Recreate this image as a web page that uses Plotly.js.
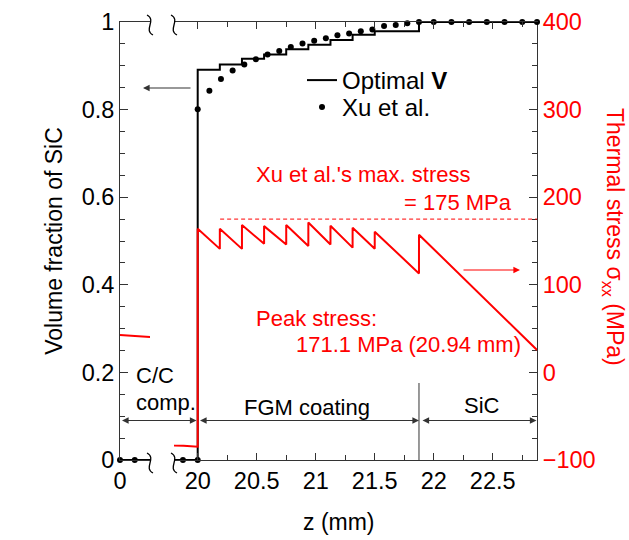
<!DOCTYPE html>
<html>
<head>
<meta charset="utf-8">
<script src="https://cdn.plot.ly/plotly-3.0.1.min.js"></script>
<style>html,body{margin:0;padding:0;background:#fff;}#chart{width:629px;height:540px;}</style>
</head>
<body>
<div id="chart"></div>
<script>
// ---- data ----
// Optimal volume fraction profile (step function, 'hv')
const optZ = [0, 20, 20.1875, 20.375, 20.5625, 20.75, 20.9375, 21.125, 21.3125, 21.5, 21.875, 22.875];
const optV = [0, 0.891, 0.903, 0.916, 0.926, 0.938, 0.948, 0.959, 0.971, 0.979, 1.0, 1.0];

// Xu et al. volume fraction points
const xuZ = [0, 0.125, 19.875, 20,
  20.0, 20.099, 20.197, 20.296, 20.395, 20.493, 20.592, 20.691, 20.789, 20.888,
  20.987, 21.086, 21.184, 21.283, 21.382, 21.480, 21.579, 21.678, 21.776, 21.875,
  22.0, 22.15, 22.3, 22.45, 22.6, 22.75, 22.875];
const xuV = [0, 0, 0, 0,
  0.801, 0.843, 0.870, 0.889, 0.903, 0.915, 0.926, 0.934, 0.943, 0.951,
  0.957, 0.963, 0.970, 0.974, 0.979, 0.983, 0.991, 0.993, 0.997, 1.0,
  1.0, 1.0, 1.0, 1.0, 1.0, 1.0, 1.0];

// Thermal stress sigma_xx (MPa) for optimal V
const stressZ = [0, 0.254, 19.8, 19.88, 20,
  20, 20.1875, 20.1875, 20.375, 20.375, 20.5625, 20.5625, 20.75, 20.75,
  20.9375, 20.9375, 21.125, 21.125, 21.3125, 21.3125, 21.5, 21.5,
  21.875, 21.875, 22.875];
const stressS = [42.7, 40.4, -83.4, -83.6, -84.8,
  164.0, 141.0, 164.0, 141.0, 168.2, 146.8, 167.0, 146.0, 168.2,
  144.2, 171.1, 146.0, 167.4, 142.4, 165.2, 141.2, 160.6,
  113.0, 157.2, 25.6];

// Xu et al.'s max stress level
const xuMaxZ = [20.19, 22.875];
const xuMaxS = [175, 175];

// Coating / SiC interface marker
const sepZ = [21.875, 21.875];
const sepV = [0, 0.176];

// Ticks
const xTickLeft = [0];
const xTickLeftText = ['0'];

// ---- geometry helpers (paper coords from pixel positions) ----
const L = 120, R = 92, T = 22, B = 80, W = 629, H = 540;
const PW = W - L - R, PH = H - T - B;
const px = x => (x - L) / PW;
const py = y => (H - B - y) / PH;

const FONT = 'Liberation Sans, Arial, sans-serif';
const RED = '#ff0000';

const traces = [];
['x', 'x2'].forEach((xa, i) => {
  traces.push({
    x: optZ, y: optV, xaxis: xa, yaxis: 'y', type: 'scatter', mode: 'lines',
    line: {shape: 'hv', color: '#000', width: 2},
    name: 'Optimal <b>V</b>', showlegend: i === 1, legend: 'legend', cliponaxis: true
  });
});
traces.push({
  x: sepZ, y: sepV, xaxis: 'x2', yaxis: 'y', type: 'scatter', mode: 'lines',
  line: {color: '#555', width: 1.2}, showlegend: false, hoverinfo: 'skip'
});
['x', 'x2'].forEach((xa, i) => {
  traces.push({
    x: xuZ, y: xuV, xaxis: xa, yaxis: 'y', type: 'scatter', mode: 'markers',
    marker: {color: '#000', size: 6},
    name: 'Xu et al.', showlegend: i === 1, legend: 'legend2', cliponaxis: false
  });
});
['x', 'x2'].forEach((xa) => {
  traces.push({
    x: stressZ, y: stressS, xaxis: xa, yaxis: 'y2', type: 'scatter', mode: 'lines',
    line: {color: RED, width: 2}, showlegend: false
  });
});
traces.push({
  x: xuMaxZ, y: xuMaxS, xaxis: 'x2', yaxis: 'y2', type: 'scatter', mode: 'lines',
  line: {color: RED, width: 1, dash: '4px,3px'}, showlegend: false
});

function brk(x, y) {
  const a = [px(x - 3), py(y - 10)], c1 = [px(x + 7), py(y - 5)], c2 = [px(x - 7), py(y + 5)], b = [px(x + 3), py(y + 10)];
  return {type: 'path', xref: 'paper', yref: 'paper',
    path: `M${a[0]},${a[1]} C${c1[0]},${c1[1]} ${c2[0]},${c2[1]} ${b[0]},${b[1]}`,
    line: {color: '#000', width: 1.3}};
}

const txt = (text, x, y, xanchor, color, size) => ({
  text, xref: 'paper', yref: 'paper', x: px(x), y: py(y), xanchor, yanchor: 'middle',
  showarrow: false, font: {family: FONT, size: size || 22, color: color || '#000'}
});
const arrowBase = {text: '', showarrow: true, arrowhead: 2, arrowsize: 1.1, arrowwidth: 1.2,
  standoff: 0, startstandoff: 0, arrowcolor: '#333'};

const annotations = [
  txt("Xu et al.'s max. stress", 254, 175, 'left', RED),
  txt('= 175 MPa', 514, 202, 'right', RED),
  txt('Peak stress:', 254, 318, 'left', RED),
  txt('171.1 MPa (20.94 mm)', 523, 344, 'right', RED),
  txt('C/C', 134, 375, 'left'),
  txt('comp.', 134, 402, 'left'),
  txt('FGM coating', 242, 407, 'left'),
  txt('SiC', 482, 405, 'center'),
  txt('z (mm)', 339, 522, 'center', '#000', 23),
  {text: 'Thermal stress σ<sub>xx</sub> (MPa)', xref: 'paper', yref: 'paper', x: px(614), y: py(237),
   xanchor: 'center', yanchor: 'middle', textangle: 90, showarrow: false,
   font: {family: FONT, size: 23, color: RED}},
  // single arrows
  Object.assign({}, arrowBase, {xref: 'paper', yref: 'paper', x: px(143), y: py(88), axref: 'pixel', ayref: 'pixel', ax: 49, ay: 0}),
  Object.assign({}, arrowBase, {xref: 'paper', yref: 'paper', x: px(520), y: py(270), axref: 'pixel', ayref: 'pixel', ax: -58, ay: 0, arrowcolor: RED}),
  // double arrows
  Object.assign({}, arrowBase, {xref: 'paper', yref: 'paper', x: px(196.5), y: py(420.5), axref: 'pixel', ayref: 'pixel', ax: -76, ay: 0, arrowside: 'end+start', startarrowhead: 2, startarrowsize: 1.1}),
  Object.assign({}, arrowBase, {xref: 'paper', yref: 'paper', x: px(419), y: py(420.5), axref: 'pixel', ayref: 'pixel', ax: -220.5, ay: 0, arrowside: 'end+start', startarrowhead: 2, startarrowsize: 1.1}),
  Object.assign({}, arrowBase, {xref: 'paper', yref: 'paper', x: px(536.5), y: py(420.5), axref: 'pixel', ayref: 'pixel', ax: -115.5, ay: 0, arrowside: 'end+start', startarrowhead: 2, startarrowsize: 1.1})
];

const tickFont = {family: FONT, size: 23.5, color: '#000'};
const x2start = 174, x1end = 150, z20px = 197.7, pxPerMm = 118;
const legFont = {family: FONT, size: 24, color: '#000'};

const layout = {
  width: W, height: H,
  margin: {l: L, r: R, t: T, b: B},
  paper_bgcolor: '#fff', plot_bgcolor: 'rgba(0,0,0,0)',
  font: {family: FONT, size: 22, color: '#000'},
  showlegend: true,
  legend: {x: px(302), y: py(58), xanchor: 'left', yanchor: 'top', bgcolor: 'rgba(0,0,0,0)',
    font: legFont, itemwidth: 30},
  legend2: {x: px(302), y: py(85), xanchor: 'left', yanchor: 'top', bgcolor: 'rgba(0,0,0,0)',
    font: legFont, itemwidth: 30},
  xaxis: {
    domain: [0, px(x1end)], range: [0, (x1end - L) / pxPerMm], anchor: 'y',
    tickmode: 'array', tickvals: xTickLeft, ticktext: xTickLeftText,
    ticks: 'inside', ticklen: 7, tickcolor: '#333', showline: true, linecolor: '#333', linewidth: 1,
    mirror: true, showgrid: false, zeroline: false, tickfont: tickFont
  },
  xaxis2: {
    domain: [px(x2start), 1], range: [20 - (z20px - x2start) / pxPerMm, 22.875], anchor: 'y',
    tickmode: 'linear', tick0: 20, dtick: 0.5,
    ticks: 'inside', ticklen: 7, tickcolor: '#333', showline: true, linecolor: '#333', linewidth: 1,
    mirror: 'ticks', showgrid: false, zeroline: false, tickfont: tickFont,
    minor: {dtick: 0.25, tick0: 20, ticks: 'inside', ticklen: 5, tickcolor: '#333', showgrid: false}
  },
  yaxis: {
    domain: [0, 1], range: [0, 1], anchor: 'x',
    tickmode: 'linear', tick0: 0, dtick: 0.2,
    ticks: 'inside', ticklen: 8, tickcolor: '#333', showline: true, linecolor: '#333', linewidth: 1,
    showgrid: false, zeroline: false, tickfont: tickFont,
    minor: {dtick: 0.05, ticks: 'inside', ticklen: 5, tickcolor: '#333', showgrid: false},
    title: {text: 'Volume fraction of SiC', font: {family: FONT, size: 23, color: '#000'}, standoff: 12}
  },
  yaxis2: {
    overlaying: 'y', side: 'right', anchor: 'x2', range: [-100, 400],
    tickmode: 'linear', tick0: -100, dtick: 100,
    ticks: 'inside', ticklen: 8, tickcolor: '#333', showline: true, linecolor: '#333', linewidth: 1,
    showgrid: false, zeroline: false, tickfont: {family: FONT, size: 23.5, color: RED},
    minor: {dtick: 25, ticks: 'inside', ticklen: 5, tickcolor: '#333', showgrid: false}
  },
  shapes: [brk(150, 25), brk(174, 25), brk(150, 463), brk(174, 463)],
  annotations
};

Plotly.newPlot('chart', traces, layout, {staticPlot: true, displayModeBar: false});
</script>
</body>
</html>
